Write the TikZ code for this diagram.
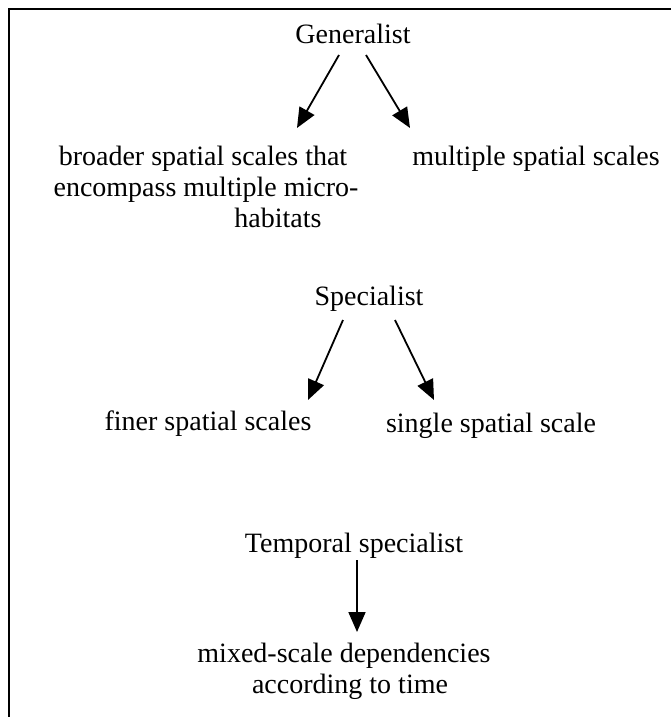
\documentclass[tikz,border=0pt]{standalone}
\usepackage{fontspec}
\setmainfont{Liberation Serif}
\usetikzlibrary{arrows.meta}
\tikzstyle{txt}=[anchor=base, inner sep=0pt, font=\fontsize{28}{31}\selectfont]
\tikzstyle{arr}=[line width=1.8pt, -{Triangle[length=20pt, width=17pt]}]
\tikzstyle{frame}=[line width=2pt]

\begin{document}
\begin{tikzpicture}[x=1pt, y=-1pt]
				\useasboundingbox (0,0) rectangle (671,717);
				% open frame, left and top only
				\draw[frame] (9,717) -- (9,9) -- (671,9);

				% Generalist
				\node[txt] (gen) at (353,44) {Generalist};
				\node[txt] (broadA) at (203,165) {broader spatial scales that};
				\node[txt] (broadB) at (206,196) {encompass multiple micro-};
				\node[txt] (broadC) at (278,227) {habitats};
				\node[txt] (multi) at (536,165) {multiple spatial scales};
				\draw[arr] ([xshift=-14pt, yshift=-11pt]gen.base) -- ([xshift=94pt, yshift=37pt]broadA.base);
				\draw[arr] ([xshift=13pt, yshift=-11pt]gen.base) -- ([xshift=-126pt, yshift=37pt]multi.base);

				% Specialist
				\node[txt] (spec) at (369,305) {Specialist};
				\node[txt] (finer) at (208,430) {finer spatial scales};
				\node[txt] (single) at (491,432) {single spatial scale};
				\draw[arr] ([xshift=-26pt, yshift=-15pt]spec.base) -- ([xshift=100pt, yshift=30pt]finer.base);
				\draw[arr] ([xshift=26pt, yshift=-15pt]spec.base) -- ([xshift=-57pt, yshift=32pt]single.base);

				% Temporal specialist
				\node[txt] (temp) at (354,552) {Temporal specialist};
				\node[txt] (mixA) at (344,662) {mixed-scale dependencies};
				\node[txt] (mixB) at (350,693) {according to time};
				\draw[arr] ([xshift=3pt, yshift=-8pt]temp.base) -- ([xshift=13pt, yshift=30pt]mixA.base);
\end{tikzpicture}
\end{document}
